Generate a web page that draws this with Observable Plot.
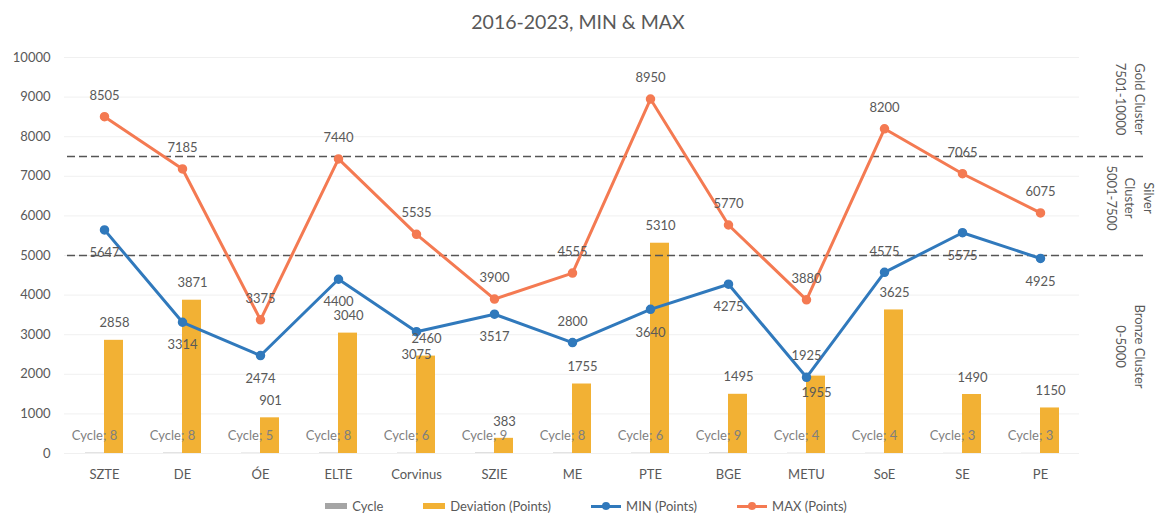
<!DOCTYPE html>
<html>
<head>
<meta charset="utf-8">
<script src="https://cdn.jsdelivr.net/npm/d3@7"></script>
<script src="https://cdn.jsdelivr.net/npm/@observablehq/plot@0.6"></script>
<style>
  body { margin: 0; background: #fff; font-family: Lato, "Open Sans", sans-serif; }
  #title { height: 40px; line-height: 44px; text-align: center; font-size: 19.5px; color: #595959; padding-right: 8px; }
  #legend { height: 22px; display: flex; justify-content: center; align-items: center; gap: 40px; font-size: 13px; color: #595959; padding-left: 8px; }
  .item { display: flex; align-items: center; gap: 5px; }
  .sw { width: 22px; height: 6px; }
  .ln { position: relative; width: 30px; height: 3px; }
  .ln i { position: absolute; left: 11px; top: -2.5px; width: 8px; height: 8px; border-radius: 50%; }
</style>
</head>
<body>
<div id="title">2016-2023, MIN &amp; MAX</div>
<div id="chart"></div>
<div id="legend"></div>
<script>
const categories = ["SZTE", "DE", "ÓE", "ELTE", "Corvinus", "SZIE", "ME", "PTE", "BGE", "METU", "SoE", "SE", "PE"];
const cycles     = [8, 8, 5, 8, 6, 9, 8, 6, 9, 4, 4, 3, 3];
const deviation  = [2858, 3871, 901, 3040, 2460, 383, 1755, 5310, 1495, 1955, 3625, 1490, 1150];
const minPoints  = [5647, 3314, 2474, 4400, 3075, 3517, 2800, 3640, 4275, 1925, 4575, 5575, 4925];
const maxPoints  = [8505, 7185, 3375, 7440, 5535, 3900, 4555, 8950, 5770, 3880, 8200, 7065, 6075];
const yTicks     = [0, 1000, 2000, 3000, 4000, 5000, 6000, 7000, 8000, 9000, 10000];
const clusterBounds = [5000, 7500];
const clusters = [
  { label: "Gold Cluster\n7501-10000", from: 7500, to: 10000 },
  { label: "Silver\nCluster\n5001-7500", from: 5000, to: 7500 },
  { label: "Bronze Cluster\n0-5000", from: 0, to: 5000 }
];

const rows = categories.map((c, i) => ({
  cat: c, cycle: cycles[i], dev: deviation[i], min: minPoints[i], max: maxPoints[i]
}));
const clusterRows = clusters.map(d => ({ ...d, mid: (d.from + d.to) / 2 }));
const minAbove = new Set(["ME", "METU", "SoE"]);
const devBelow = new Set(["METU"]);

const gray = "#595959";
const barColor = "#F2B134";
const minColor = "#3079BC";
const maxColor = "#F47A52";
const cycleColor = "#A5A5A5";
const fs = 13;

const chart = Plot.plot({
  width: 1164,
  height: 455,
  marginTop: 17,
  marginBottom: 42,
  marginLeft: 64,
  marginRight: 85,
  style: { fontFamily: "Lato, 'Open Sans', sans-serif", fontSize: "13px", color: gray, background: "#fff" },
  x: { domain: categories, padding: 0, label: null },
  y: { domain: [0, 10000], label: null },
  marks: [
    Plot.gridY(yTicks, { stroke: "#f0f0f0", strokeOpacity: 1 }),
    Plot.axisY(yTicks, { tickSize: 0, tickPadding: 14, fontSize: fs, fill: gray, tickFormat: d => String(d), label: null }),
    Plot.axisX({ tickSize: 0, tickPadding: 16, fontSize: fs, fill: gray, label: null }),
    Plot.barY(rows, { x: "cat", y: "cycle", fill: cycleColor, insetLeft: 20, insetRight: 39 }),
    Plot.barY(rows, { x: "cat", y: "dev", fill: barColor, insetLeft: 39, insetRight: 20 }),
    Plot.ruleY(clusterBounds, { stroke: "#555", strokeWidth: 1.5, strokeDasharray: "8,4", insetLeft: 3, insetRight: -66 }),
    Plot.text(clusterRows, { y: "mid", text: "label", frameAnchor: "right", textAnchor: "middle", dx: 52, dy: -8, rotate: 90, lineHeight: 1.45, fontSize: fs, fill: gray }),
    Plot.line(rows, { x: "cat", y: "min", stroke: minColor, strokeWidth: 3 }),
    Plot.dot(rows, { x: "cat", y: "min", r: 4, fill: minColor, stroke: minColor }),
    Plot.line(rows, { x: "cat", y: "max", stroke: maxColor, strokeWidth: 3 }),
    Plot.dot(rows, { x: "cat", y: "max", r: 4, fill: maxColor, stroke: maxColor }),
    Plot.text(rows.filter(d => !devBelow.has(d.cat)), { x: "cat", y: "dev", text: d => String(d.dev), dx: 10, dy: -17, fontSize: fs, fill: gray }),
    Plot.text(rows.filter(d => devBelow.has(d.cat)), { x: "cat", y: "dev", text: d => String(d.dev), dx: 10, dy: 17, fontSize: fs, fill: gray }),
    Plot.text(rows, { x: "cat", y: 0, text: d => "Cycle; " + d.cycle, dx: -10, dy: -18, fontSize: fs, fill: "#7f7f7f" }),
    Plot.text(rows.filter(d => !minAbove.has(d.cat)), { x: "cat", y: "min", text: d => String(d.min), dy: 23, fontSize: fs, fill: gray }),
    Plot.text(rows.filter(d => minAbove.has(d.cat)), { x: "cat", y: "min", text: d => String(d.min), dy: -21, fontSize: fs, fill: gray }),
    Plot.text(rows, { x: "cat", y: "max", text: d => String(d.max), dy: -21, fontSize: fs, fill: gray })
  ]
});
document.getElementById("chart").appendChild(chart);

const legendItems = [
  { name: "Cycle", kind: "bar", color: cycleColor },
  { name: "Deviation (Points)", kind: "bar", color: barColor },
  { name: "MIN (Points)", kind: "line", color: minColor },
  { name: "MAX (Points)", kind: "line", color: maxColor }
];
const legend = document.getElementById("legend");
legendItems.forEach(it => {
  const el = document.createElement("div");
  el.className = "item";
  const sw = document.createElement("span");
  if (it.kind === "bar") {
    sw.className = "sw";
    sw.style.background = it.color;
  } else {
    sw.className = "ln";
    sw.style.background = it.color;
    const dot = document.createElement("i");
    dot.style.background = it.color;
    sw.appendChild(dot);
  }
  const t = document.createElement("span");
  t.textContent = it.name;
  el.appendChild(sw);
  el.appendChild(t);
  legend.appendChild(el);
});
</script>
</body>
</html>
